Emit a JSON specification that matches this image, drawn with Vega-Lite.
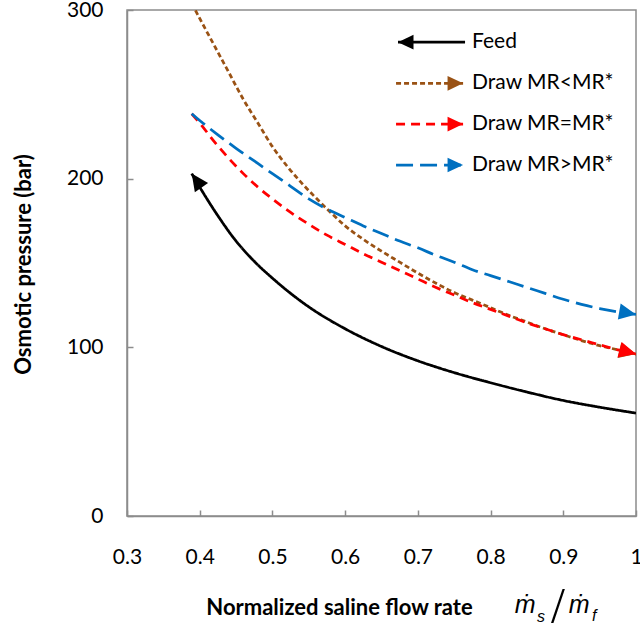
{
  "$schema": "https://vega.github.io/schema/vega-lite/v6.json",
  "width": 509,
  "height": 506,
  "autosize": {"type": "none"},
  "padding": {"left": 127, "top": 10, "right": 4, "bottom": 111},
  "background": "white",
  "config": {
    "font": "Lato",
    "view": {"stroke": "#8c8c8c", "strokeWidth": 1.5},
    "axis": {
      "grid": false,
      "labelFont": "Lato",
      "labelFontSize": 21,
      "labelColor": "#000000",
      "titleFont": "Lato",
      "titleFontSize": 22,
      "titleFontWeight": "bold",
      "titleColor": "#000000",
      "domainColor": "#8c8c8c",
      "domainWidth": 1.5,
      "tickColor": "#8c8c8c",
      "tickWidth": 1.5,
      "tickSize": -6,
      "labelFlush": false,
      "labelOverlap": false,
      "labelBound": false
    }
  },
  "datasets": {
    "curves": [
      {"series": "Feed", "x": 0.389, "y": 203},
      {"series": "Feed", "x": 0.40, "y": 195},
      {"series": "Feed", "x": 0.425, "y": 178},
      {"series": "Feed", "x": 0.45, "y": 163},
      {"series": "Feed", "x": 0.475, "y": 151},
      {"series": "Feed", "x": 0.50, "y": 141},
      {"series": "Feed", "x": 0.55, "y": 124},
      {"series": "Feed", "x": 0.60, "y": 111},
      {"series": "Feed", "x": 0.65, "y": 100.5},
      {"series": "Feed", "x": 0.70, "y": 92},
      {"series": "Feed", "x": 0.75, "y": 85},
      {"series": "Feed", "x": 0.80, "y": 79},
      {"series": "Feed", "x": 0.85, "y": 73.5},
      {"series": "Feed", "x": 0.90, "y": 68.5},
      {"series": "Feed", "x": 0.95, "y": 64.5},
      {"series": "Feed", "x": 1.00, "y": 61},
      {"series": "Draw MR<MR*", "x": 0.389, "y": 304},
      {"series": "Draw MR<MR*", "x": 0.40, "y": 295},
      {"series": "Draw MR<MR*", "x": 0.42, "y": 279},
      {"series": "Draw MR<MR*", "x": 0.44, "y": 263},
      {"series": "Draw MR<MR*", "x": 0.46, "y": 247},
      {"series": "Draw MR<MR*", "x": 0.48, "y": 233},
      {"series": "Draw MR<MR*", "x": 0.50, "y": 219},
      {"series": "Draw MR<MR*", "x": 0.52, "y": 207.5},
      {"series": "Draw MR<MR*", "x": 0.54, "y": 197.5},
      {"series": "Draw MR<MR*", "x": 0.56, "y": 188.5},
      {"series": "Draw MR<MR*", "x": 0.58, "y": 180},
      {"series": "Draw MR<MR*", "x": 0.60, "y": 172},
      {"series": "Draw MR<MR*", "x": 0.625, "y": 164},
      {"series": "Draw MR<MR*", "x": 0.65, "y": 157},
      {"series": "Draw MR<MR*", "x": 0.675, "y": 150.5},
      {"series": "Draw MR<MR*", "x": 0.70, "y": 144},
      {"series": "Draw MR<MR*", "x": 0.725, "y": 138},
      {"series": "Draw MR<MR*", "x": 0.75, "y": 132.5},
      {"series": "Draw MR<MR*", "x": 0.775, "y": 128},
      {"series": "Draw MR<MR*", "x": 0.80, "y": 123.5},
      {"series": "Draw MR<MR*", "x": 0.825, "y": 119},
      {"series": "Draw MR<MR*", "x": 0.85, "y": 115},
      {"series": "Draw MR<MR*", "x": 0.875, "y": 111},
      {"series": "Draw MR<MR*", "x": 0.90, "y": 107.5},
      {"series": "Draw MR<MR*", "x": 0.925, "y": 104},
      {"series": "Draw MR<MR*", "x": 0.95, "y": 101},
      {"series": "Draw MR<MR*", "x": 0.975, "y": 98.5},
      {"series": "Draw MR<MR*", "x": 1.00, "y": 96},
      {"series": "Draw MR=MR*", "x": 0.389, "y": 238.5},
      {"series": "Draw MR=MR*", "x": 0.40, "y": 233},
      {"series": "Draw MR=MR*", "x": 0.42, "y": 222},
      {"series": "Draw MR=MR*", "x": 0.44, "y": 212},
      {"series": "Draw MR=MR*", "x": 0.46, "y": 203},
      {"series": "Draw MR=MR*", "x": 0.48, "y": 195},
      {"series": "Draw MR=MR*", "x": 0.50, "y": 188},
      {"series": "Draw MR=MR*", "x": 0.525, "y": 180},
      {"series": "Draw MR=MR*", "x": 0.55, "y": 173},
      {"series": "Draw MR=MR*", "x": 0.575, "y": 166.5},
      {"series": "Draw MR=MR*", "x": 0.60, "y": 161},
      {"series": "Draw MR=MR*", "x": 0.625, "y": 155.5},
      {"series": "Draw MR=MR*", "x": 0.65, "y": 150.5},
      {"series": "Draw MR=MR*", "x": 0.675, "y": 145.5},
      {"series": "Draw MR=MR*", "x": 0.70, "y": 140.5},
      {"series": "Draw MR=MR*", "x": 0.725, "y": 135.5},
      {"series": "Draw MR=MR*", "x": 0.75, "y": 131},
      {"series": "Draw MR=MR*", "x": 0.775, "y": 126.5},
      {"series": "Draw MR=MR*", "x": 0.80, "y": 122.5},
      {"series": "Draw MR=MR*", "x": 0.825, "y": 118.5},
      {"series": "Draw MR=MR*", "x": 0.85, "y": 114.5},
      {"series": "Draw MR=MR*", "x": 0.875, "y": 111},
      {"series": "Draw MR=MR*", "x": 0.90, "y": 107.5},
      {"series": "Draw MR=MR*", "x": 0.925, "y": 104.5},
      {"series": "Draw MR=MR*", "x": 0.95, "y": 101.5},
      {"series": "Draw MR=MR*", "x": 0.975, "y": 98.5},
      {"series": "Draw MR=MR*", "x": 1.00, "y": 96},
      {"series": "Draw MR>MR*", "x": 0.389, "y": 238.5},
      {"series": "Draw MR>MR*", "x": 0.40, "y": 234.5},
      {"series": "Draw MR>MR*", "x": 0.425, "y": 226},
      {"series": "Draw MR>MR*", "x": 0.45, "y": 218},
      {"series": "Draw MR>MR*", "x": 0.475, "y": 210.5},
      {"series": "Draw MR>MR*", "x": 0.50, "y": 203},
      {"series": "Draw MR>MR*", "x": 0.525, "y": 195.5},
      {"series": "Draw MR>MR*", "x": 0.55, "y": 188},
      {"series": "Draw MR>MR*", "x": 0.575, "y": 182},
      {"series": "Draw MR>MR*", "x": 0.60, "y": 177},
      {"series": "Draw MR>MR*", "x": 0.625, "y": 172},
      {"series": "Draw MR>MR*", "x": 0.65, "y": 167.5},
      {"series": "Draw MR>MR*", "x": 0.675, "y": 163},
      {"series": "Draw MR>MR*", "x": 0.70, "y": 159},
      {"series": "Draw MR>MR*", "x": 0.725, "y": 154.5},
      {"series": "Draw MR>MR*", "x": 0.75, "y": 150.5},
      {"series": "Draw MR>MR*", "x": 0.775, "y": 146},
      {"series": "Draw MR>MR*", "x": 0.80, "y": 142.5},
      {"series": "Draw MR>MR*", "x": 0.825, "y": 139},
      {"series": "Draw MR>MR*", "x": 0.85, "y": 135.5},
      {"series": "Draw MR>MR*", "x": 0.875, "y": 132},
      {"series": "Draw MR>MR*", "x": 0.90, "y": 128.5},
      {"series": "Draw MR>MR*", "x": 0.925, "y": 125.5},
      {"series": "Draw MR>MR*", "x": 0.95, "y": 123},
      {"series": "Draw MR>MR*", "x": 0.975, "y": 121},
      {"series": "Draw MR>MR*", "x": 1.00, "y": 119.5}
    ],
    "legend": [
      {"series": "Feed", "x1": 0.6727, "x2": 0.7649, "tx": 0.7745, "y": 280.9},
      {"series": "Draw MR<MR*", "x1": 0.670, "x2": 0.7622, "tx": 0.7745, "y": 256.5},
      {"series": "Draw MR=MR*", "x1": 0.670, "x2": 0.7622, "tx": 0.7745, "y": 232.4},
      {"series": "Draw MR>MR*", "x1": 0.670, "x2": 0.7622, "tx": 0.7745, "y": 208.1}
    ],
    "formula": [
      {"kind": "base", "t": "ṁ", "x": 0.8474, "y": -57.5},
      {"kind": "sub", "t": "s", "x": 0.8639, "y": -62.8},
      {"kind": "delim", "t": "/", "x": 0.8928, "y": -63},
      {"kind": "base", "t": "ṁ", "x": 0.9217, "y": -57.5},
      {"kind": "sub", "t": "f", "x": 0.9395, "y": -62.3}
    ]
  },
  "layer": [
    {
      "data": {"name": "curves"},
      "mark": {"type": "line", "strokeWidth": 2.75, "interpolate": "monotone", "clip": true},
      "encoding": {
        "x": {"field": "x", "type": "quantitative", "title": "Normalized saline flow rate",
              "scale": {"domain": [0.3, 1], "nice": false, "zero": false},
              "axis": {"values": [0.3, 0.4, 0.5, 0.6, 0.7, 0.8, 0.9, 1.0], "format": ".1~f",
                       "labelPadding": 47, "labelBaseline": "middle",
                       "titleX": 212, "titleY": 98, "titleAlign": "center", "titleBaseline": "alphabetic", "titleAnchor": "middle"}},
        "y": {"field": "y", "type": "quantitative", "title": "Osmotic pressure (bar)",
              "scale": {"domain": [0, 300], "nice": false},
              "axis": {"values": [0, 100, 200, 300], "labelPadding": 30,
                       "titleX": -104, "titleY": 254, "titleAngle": -90, "titleAlign": "center", "titleBaseline": "middle", "titleAnchor": "middle"}},
        "color": {"field": "series", "type": "nominal", "legend": null,
                  "scale": {"domain": ["Feed", "Draw MR<MR*", "Draw MR=MR*", "Draw MR>MR*"],
                            "range": ["#000000", "#9A5214", "#FF0000", "#0070C0"]}},
        "strokeDash": {"field": "series", "type": "nominal", "legend": null,
                       "scale": {"domain": ["Feed", "Draw MR<MR*", "Draw MR=MR*", "Draw MR>MR*"],
                                 "range": [[1, 0], [5, 3], [9, 6], [17, 7]]}}
      }
    },
    {
      "data": {"name": "curves"},
      "transform": [{"filter": "datum.series == 'Feed' && datum.x == 0.389"}],
      "mark": {"type": "point", "shape": "M0,0L0.95,2L-0.95,2Z", "filled": true, "opacity": 1, "size": 289, "angle": 325, "strokeWidth": 0},
      "encoding": {
        "x": {"field": "x", "type": "quantitative", "title": "Normalized saline flow rate", "scale": {"domain": [0.3, 1], "nice": false, "zero": false}},
        "y": {"field": "y", "type": "quantitative", "title": "Osmotic pressure (bar)", "scale": {"domain": [0, 300], "nice": false}},
        "color": {"field": "series", "type": "nominal", "legend": null}
      }
    },
    {
      "data": {"name": "curves"},
      "transform": [{"filter": "datum.series == 'Draw MR<MR*' && datum.x == 1"}],
      "mark": {"type": "point", "shape": "M0,0L0.95,2L-0.95,2Z", "filled": true, "opacity": 1, "size": 289, "angle": 103, "strokeWidth": 0},
      "encoding": {
        "x": {"field": "x", "type": "quantitative", "title": "Normalized saline flow rate", "scale": {"domain": [0.3, 1], "nice": false, "zero": false}},
        "y": {"field": "y", "type": "quantitative", "title": "Osmotic pressure (bar)", "scale": {"domain": [0, 300], "nice": false}},
        "color": {"field": "series", "type": "nominal", "legend": null}
      }
    },
    {
      "data": {"name": "curves"},
      "transform": [{"filter": "datum.series == 'Draw MR=MR*' && datum.x == 1"}],
      "mark": {"type": "point", "shape": "M0,0L0.95,2L-0.95,2Z", "filled": true, "opacity": 1, "size": 289, "angle": 105, "strokeWidth": 0},
      "encoding": {
        "x": {"field": "x", "type": "quantitative", "title": "Normalized saline flow rate", "scale": {"domain": [0.3, 1], "nice": false, "zero": false}},
        "y": {"field": "y", "type": "quantitative", "title": "Osmotic pressure (bar)", "scale": {"domain": [0, 300], "nice": false}},
        "color": {"field": "series", "type": "nominal", "legend": null}
      }
    },
    {
      "data": {"name": "curves"},
      "transform": [{"filter": "datum.series == 'Draw MR>MR*' && datum.x == 1"}],
      "mark": {"type": "point", "shape": "M0,0L0.95,2L-0.95,2Z", "filled": true, "opacity": 1, "size": 289, "angle": 100, "strokeWidth": 0},
      "encoding": {
        "x": {"field": "x", "type": "quantitative", "title": "Normalized saline flow rate", "scale": {"domain": [0.3, 1], "nice": false, "zero": false}},
        "y": {"field": "y", "type": "quantitative", "title": "Osmotic pressure (bar)", "scale": {"domain": [0, 300], "nice": false}},
        "color": {"field": "series", "type": "nominal", "legend": null}
      }
    },
    {
      "data": {"name": "legend"},
      "mark": {"type": "rule", "strokeWidth": 2.75},
      "encoding": {
        "x": {"field": "x1", "type": "quantitative", "title": "Normalized saline flow rate", "scale": {"domain": [0.3, 1], "nice": false, "zero": false}},
        "x2": {"field": "x2"},
        "y": {"field": "y", "type": "quantitative", "title": "Osmotic pressure (bar)", "scale": {"domain": [0, 300], "nice": false}},
        "color": {"field": "series", "type": "nominal", "legend": null},
        "strokeDash": {"field": "series", "type": "nominal", "legend": null}
      }
    },
    {
      "data": {"name": "legend"},
      "transform": [{"filter": "datum.series == 'Feed'"}],
      "mark": {"type": "point", "shape": "M0,0L0.95,2L-0.95,2Z", "filled": true, "opacity": 1, "size": 240, "angle": 270, "strokeWidth": 0},
      "encoding": {
        "x": {"field": "x1", "type": "quantitative", "title": "Normalized saline flow rate", "scale": {"domain": [0.3, 1], "nice": false, "zero": false}},
        "y": {"field": "y", "type": "quantitative", "title": "Osmotic pressure (bar)", "scale": {"domain": [0, 300], "nice": false}},
        "color": {"field": "series", "type": "nominal", "legend": null}
      }
    },
    {
      "data": {"name": "legend"},
      "transform": [{"filter": "datum.series != 'Feed'"}],
      "mark": {"type": "point", "shape": "M0,0L0.95,2L-0.95,2Z", "filled": true, "opacity": 1, "size": 240, "angle": 90, "strokeWidth": 0},
      "encoding": {
        "x": {"field": "x2", "type": "quantitative", "title": "Normalized saline flow rate", "scale": {"domain": [0.3, 1], "nice": false, "zero": false}},
        "y": {"field": "y", "type": "quantitative", "title": "Osmotic pressure (bar)", "scale": {"domain": [0, 300], "nice": false}},
        "color": {"field": "series", "type": "nominal", "legend": null}
      }
    },
    {
      "data": {"name": "legend"},
      "mark": {"type": "text", "align": "left", "baseline": "middle", "fontSize": 21, "font": "Lato", "color": "#000000"},
      "encoding": {
        "x": {"field": "tx", "type": "quantitative", "title": "Normalized saline flow rate", "scale": {"domain": [0.3, 1], "nice": false, "zero": false}},
        "y": {"field": "y", "type": "quantitative", "title": "Osmotic pressure (bar)", "scale": {"domain": [0, 300], "nice": false}},
        "text": {"field": "series"}
      }
    },
    {
      "data": {"name": "formula"},
      "transform": [{"filter": "datum.kind == 'base'"}],
      "mark": {"type": "text", "align": "center", "baseline": "alphabetic", "fontSize": 25, "font": "Liberation Sans", "fontStyle": "italic", "color": "#000000"},
      "encoding": {
        "x": {"field": "x", "type": "quantitative", "title": "Normalized saline flow rate", "scale": {"domain": [0.3, 1], "nice": false, "zero": false}},
        "y": {"field": "y", "type": "quantitative", "title": "Osmotic pressure (bar)", "scale": {"domain": [0, 300], "nice": false}},
        "text": {"field": "t"}
      }
    },
    {
      "data": {"name": "formula"},
      "transform": [{"filter": "datum.kind == 'sub'"}],
      "mark": {"type": "text", "align": "left", "baseline": "alphabetic", "fontSize": 16, "font": "Liberation Sans", "fontStyle": "italic", "color": "#000000"},
      "encoding": {
        "x": {"field": "x", "type": "quantitative", "title": "Normalized saline flow rate", "scale": {"domain": [0.3, 1], "nice": false, "zero": false}},
        "y": {"field": "y", "type": "quantitative", "title": "Osmotic pressure (bar)", "scale": {"domain": [0, 300], "nice": false}},
        "text": {"field": "t"}
      }
    },
    {
      "data": {"name": "formula"},
      "transform": [{"filter": "datum.kind == 'delim'"}],
      "mark": {"type": "text", "align": "center", "baseline": "alphabetic", "fontSize": 50, "font": "Liberation Serif", "color": "#000000"},
      "encoding": {
        "x": {"field": "x", "type": "quantitative", "title": "Normalized saline flow rate", "scale": {"domain": [0.3, 1], "nice": false, "zero": false}},
        "y": {"field": "y", "type": "quantitative", "title": "Osmotic pressure (bar)", "scale": {"domain": [0, 300], "nice": false}},
        "text": {"field": "t"}
      }
    }
  ]
}
